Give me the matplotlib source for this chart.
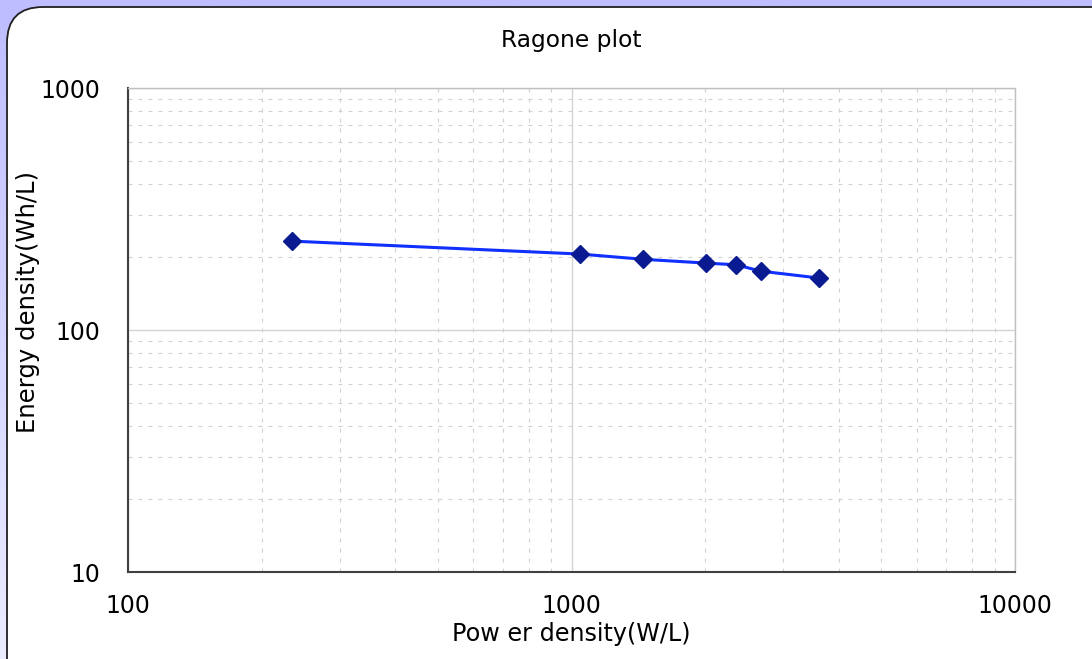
import numpy as np
import matplotlib
matplotlib.use("Agg")
import matplotlib.pyplot as plt
from matplotlib.patches import FancyBboxPatch
from matplotlib.ticker import LogLocator, FixedLocator, NullFormatter, FixedFormatter

power_density = [234, 1045, 1449, 2010, 2350, 2674, 3612]
energy_density = [233, 206, 196, 189, 186, 175, 164]
x_ticks = [100, 1000, 10000]
x_tick_labels = ["100", "1000", "10000"]
y_ticks = [10, 100, 1000]
y_tick_labels = ["10", "100", "1000"]

plt.rcParams['font.family'] = ['DejaVu Sans']
W, H = 1092, 659
fig = plt.figure(figsize=(W / 100, H / 100), dpi=100)

# background gradient
bg = fig.add_axes([0, 0, 1, 1], zorder=-10)
grad = np.linspace(0, 1, 256)[:, None]
top = np.array([189, 189, 255]) / 255
bot = np.array([236, 236, 255]) / 255
img = top[None, None, :] * (1 - grad[:, :, None]) + bot[None, None, :] * grad[:, :, None]
bg.imshow(np.repeat(img, 4, axis=1), aspect='auto', extent=[0, W, 0, H], origin='upper')
bg.set_xlim(0, W)
bg.set_ylim(0, H)
bg.axis('off')
panel = FancyBboxPatch((7, -40), W + 40, H + 40 - 7, boxstyle="round,pad=0,rounding_size=36",
                       facecolor='white', edgecolor='#202020', linewidth=1.3)
bg.add_patch(panel)

ax = fig.add_axes([128 / W, 1 - 572 / H, (1015 - 128) / W, (572 - 88) / H])
ax.set_xscale('log')
ax.set_yscale('log')
ax.set_xlim(100, 10000)
ax.set_ylim(10, 1000)

ax.xaxis.set_major_locator(FixedLocator(x_ticks))
ax.xaxis.set_major_formatter(FixedFormatter(x_tick_labels))
ax.yaxis.set_major_locator(FixedLocator(y_ticks))
ax.yaxis.set_major_formatter(FixedFormatter(y_tick_labels))
ax.xaxis.set_minor_locator(LogLocator(base=10, subs=np.arange(2, 10)))
ax.yaxis.set_minor_locator(LogLocator(base=10, subs=np.arange(2, 10)))
ax.xaxis.set_minor_formatter(NullFormatter())
ax.yaxis.set_minor_formatter(NullFormatter())

ax.grid(which='major', color='#d4d4d4', linewidth=1.0, linestyle='-')
ax.grid(which='minor', color='#d0d0d0', linewidth=0.8, linestyle=(0, (3.5, 5.5)))
ax.set_axisbelow(True)

ax.tick_params(which='both', direction='in', length=0, labelsize=17, labelcolor='black')
ax.tick_params(axis='x', pad=16)
ax.tick_params(axis='y', pad=20)

for s in ['top', 'right']:
    ax.spines[s].set_color('#c0c0c0')
    ax.spines[s].set_linewidth(1.0)
for s in ['left', 'bottom']:
    ax.spines[s].set_color('#404040')
    ax.spines[s].set_linewidth(1.5)

ax.plot(power_density, energy_density, color='#1030ff', linewidth=2.2,
        marker='D', markersize=9.5, markerfacecolor='#0a1a90', markeredgecolor='#0a1a90', zorder=5)

fig.text((128 + 1015) / 2 / W, 1 - 40 / H, "Ragone plot", ha='center', va='center', fontsize=16.8)
fig.text((128 + 1015) / 2 / W, 1 - 634 / H, "Pow er density(W/L)", ha='center', va='center', fontsize=17.2)
fig.text(28 / W, 1 - 302 / H, "Energy density(Wh/L)", ha='center', va='center', fontsize=17.5, rotation=90)

fig.savefig("out.png", dpi=100)
